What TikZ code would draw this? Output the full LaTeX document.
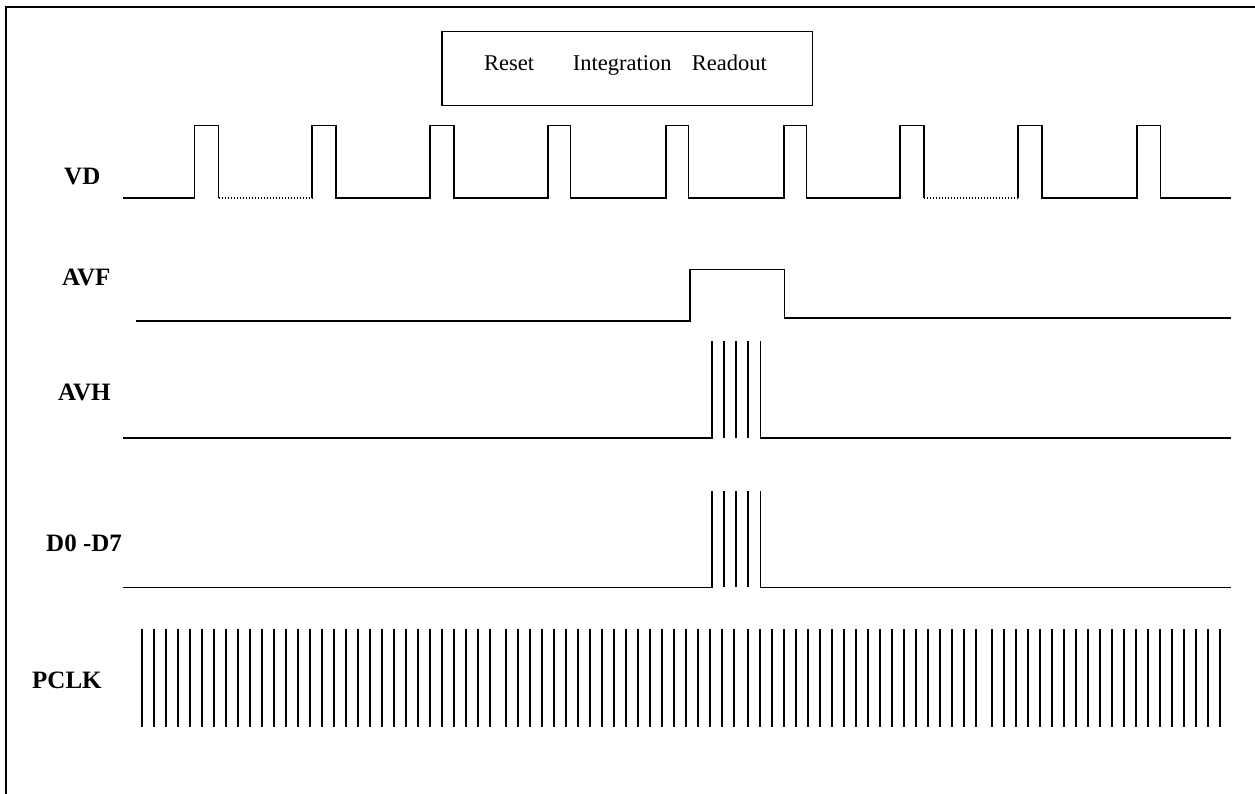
\documentclass[tikz,border=0pt]{standalone}
\usepackage{fontspec}
\setmainfont{Liberation Serif}
\begin{document}
\begin{tikzpicture}[x=1pt,y=-1pt,
  sig/.style={line width=1.6pt},
  clk/.style={line width=1.4pt},
  dots/.style={line width=1.6pt, dash pattern=on 1.2pt off 1.8pt},
  lbl/.style={font=\fontsize{25}{28}\selectfont\bfseries, anchor=base west, inner sep=0pt},
  boxtxt/.style={font=\fontsize{22.5}{26}\selectfont, anchor=base west, inner sep=0pt}]
\useasboundingbox (0,0) rectangle (1255,794);
% frame
\draw[line width=1.8pt] (6,794) -- (6,7) -- (1256,7);
% phase box
\node[draw, line width=1.6pt, minimum width=370.6pt, minimum height=74pt, inner sep=0pt] (phases) at (627,68.7) {};
\node[boxtxt] (reset) at (484,70.7) {Reset};
\node[boxtxt] (integ) at (572.7,70.7) {Integration};
\node[boxtxt] (readout) at (691.7,70.7) {Readout};
% labels
\node[lbl] (vd) at (64,184.3) {VD};
\node[lbl] (avf) at (62,286) {AVF};
\node[lbl] (avh) at (58,400) {AVH};
\node[lbl] (data) at (46,551) {D0 -D7};
\node[lbl] (pclk) at (32,688) {PCLK};
% VD
\draw[sig] (123,198) -- (194.5,198) -- (194.5,125.5) -- (218.5,125.5) -- (218.5,198);
\draw[dots] (218.5,198) -- (312,198);
\draw[sig] (312,198) -- (312,125.5) -- (336,125.5) -- (336,198) -- (430,198) -- (430,125.5) -- (454,125.5) -- (454,198)
  -- (548,198) -- (548,125.5) -- (570.5,125.5) -- (570.5,198) -- (666,198) -- (666,125.5) -- (688.5,125.5) -- (688.5,198)
  -- (784,198) -- (784,125.5) -- (806.5,125.5) -- (806.5,198) -- (900,198) -- (900,125.5) -- (924,125.5) -- (924,198);
\draw[dots] (924,198) -- (1018,198);
\draw[sig] (1018,198) -- (1018,125.5) -- (1042,125.5) -- (1042,198) -- (1137,198) -- (1137,125.5) -- (1160.5,125.5) -- (1160.5,198) -- (1231,198);
% AVF
\draw[sig] (135.7,321) -- (690,321) -- (690,269.5) -- (784.3,269.5) -- (784.3,318) -- (1231,318);
% AVH
\draw[sig] (123,437.7) -- (712,437.7) -- (712,341);
\foreach \x in {724,736,748} \draw[sig] (\x,341) -- (\x,437.7);
\draw[sig] (760.5,341) -- (760.5,437.7) -- (1231,437.7);
% D0-D7
\draw[sig] (123,587.3) -- (712,587.3) -- (712,491);
\foreach \x in {724,736,748} \draw[sig] (\x,491) -- (\x,587.3);
\draw[sig] (760.5,491) -- (760.5,587.3) -- (1231,587.3);
% PCLK
\foreach \i in {0,...,29} \draw[clk] ({142+12*\i},629) -- ({142+12*\i},727);
\foreach \i in {0,...,19} {
  \draw[clk] ({506+12*\i},629) -- ({506+12*\i},727);
  \draw[clk] ({748+12*\i},629) -- ({748+12*\i},727);
  \draw[clk] ({992+12*\i},629) -- ({992+12*\i},727);
}
\end{tikzpicture}
\end{document}
